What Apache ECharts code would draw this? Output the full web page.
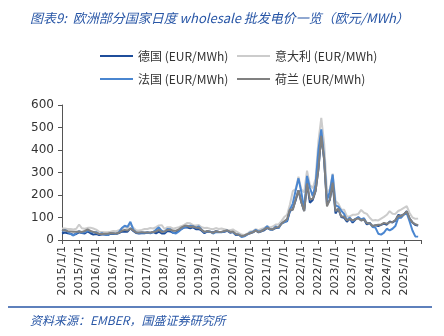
<!DOCTYPE html>
<html><head><meta charset="utf-8">
<script src="https://cdn.jsdelivr.net/npm/echarts@6/dist/echarts.min.js"></script>
<style>html,body{margin:0;padding:0;background:#fff}#c{width:444px;height:336px}</style>
</head><body><div id="c"></div>
<script>
// Monthly categories 2015/1/1 .. 2025/7/1
const months = [];
for (let y = 2015; y <= 2025; y++) for (let m = 1; m <= 12; m++) { if (y === 2025 && m > 7) break; months.push(y + '/' + m + '/1'); }

const seriesNames = ['德国 (EUR/MWh)', '意大利 (EUR/MWh)', '法国 (EUR/MWh)', '荷兰 (EUR/MWh)'];

const germany = [
 29,33,30,28,23,27,34,31,29,38,30,24,
 27,22,24,24,22,27,28,27,31,37,38,37,
 52,40,31,29,30,30,33,31,35,30,37,29,
 29,40,38,32,33,42,49,56,55,52,56,48,
 49,41,30,38,37,33,39,37,36,37,41,32,
 35,22,23,17,18,26,30,34,43,34,39,43,
 53,48,47,53,53,74,81,83,128,139,176,221,
 168,129,252,166,178,218,315,465,356,158,178,252,
 118,139,102,99,81,95,77,91,101,88,91,69,
 76,61,65,62,67,73,68,82,78,86,111,108,
 114,128,95,78,67,64,null
];
const france = [
 39,45,37,27,20,30,40,32,34,43,38,34,
 35,26,30,24,22,29,29,27,35,53,63,59,
 81,46,34,31,33,32,33,30,35,46,56,41,
 35,49,48,32,29,38,50,57,60,64,61,55,
 60,46,34,39,37,29,35,34,34,39,42,36,
 36,25,25,13,16,24,33,36,45,37,41,48,
 62,46,46,60,53,72,78,86,135,162,220,274,
 212,138,285,232,195,248,400,492,367,176,215,291,
 154,148,131,116,87,100,83,94,101,91,97,75,
 75,58,55,28,24,33,50,43,50,62,98,99,
 113,119,82,42,16,15,null
];
const italy = [
 51,51,49,49,47,50,69,52,50,54,55,51,
 46,37,36,34,35,37,40,39,43,50,57,52,
 72,55,43,42,45,49,49,53,51,57,65,66,
 49,57,57,50,54,57,62,68,76,74,66,65,
 67,57,53,54,50,48,53,49,51,48,45,43,
 47,39,32,24,22,28,38,40,48,44,49,54,
 61,56,60,69,69,84,102,112,158,217,226,281,
 224,212,308,245,230,272,441,543,430,212,225,295,
 174,161,136,135,105,105,112,112,116,134,121,116,
 99,87,89,87,95,103,112,128,117,116,129,135,
 143,150,120,100,94,95,null
];
const netherlands = [
 43,43,39,38,37,37,38,36,40,47,40,36,
 32,27,27,28,28,31,30,29,32,41,45,42,
 51,43,33,33,35,33,33,33,36,38,45,36,
 38,45,46,41,41,47,56,63,63,58,60,55,
 55,45,36,40,36,32,39,36,37,40,43,36,
 38,27,24,18,20,26,30,35,42,35,40,47,
 54,49,47,56,57,72,83,93,136,133,180,221,
 168,128,251,180,183,218,317,463,360,149,179,255,
 128,139,104,104,87,94,87,92,96,87,91,75,
 75,62,66,68,68,76,72,79,80,89,107,106,
 115,127,96,78,70,66,null
];
const yTicks = [0, 100, 200, 300, 400, 500, 600];

const chart = echarts.init(document.getElementById('c'), null, {renderer: 'canvas'});
const colors = ['#1f4e9b', '#cccccc', '#4a86d0', '#808080'];
const dataArr = [germany, italy, france, netherlands];
const legendText = {fontSize: 12, color: '#333', fontFamily: 'Noto Sans CJK SC, sans-serif'};
const legendBase = {orient: 'vertical', top: 50, padding: 0, icon: 'rect', itemWidth: 33, itemHeight: 2, itemGap: 11, textStyle: legendText};
chart.setOption({
  animation: false,
  title: [{
    text: '图表9:  欧洲部分国家日度 wholesale 批发电价一览（欧元/MWh）',
    left: 25, top: 7,
    textStyle: {fontSize: 13, fontStyle: 'italic', fontWeight: 'normal', color: '#2856a6', fontFamily: 'Noto Sans CJK SC, sans-serif'}
  }, {
    text: '资料来源：EMBER，国盛证券研究所',
    left: 25, top: 309,
    textStyle: {fontSize: 12, fontStyle: 'italic', fontWeight: 'normal', color: '#2856a6', fontFamily: 'Noto Sans CJK SC, sans-serif'}
  }],
  graphic: [{type: 'line', shape: {x1: 8, y1: 307, x2: 432, y2: 307}, style: {stroke: '#2856a6', lineWidth: 1.5}}],
  legend: [
    Object.assign({data: [seriesNames[0], seriesNames[2]], left: 100}, legendBase),
    Object.assign({data: [seriesNames[1], seriesNames[3]], left: 237}, legendBase)
  ],
  grid: {left: 62, right: 23, top: 105, bottom: 96, containLabel: false},
  xAxis: {
    type: 'category', data: months, boundaryGap: false,
    axisLine: {lineStyle: {color: '#555'}},
    axisTick: {interval: (i) => i % 6 === 0, length: 4, lineStyle: {color: '#555'}},
    axisLabel: {interval: (i) => i % 6 === 0 && i < months.length - 1, rotate: 90, fontSize: 11, color: '#333', margin: 6, fontFamily: 'DejaVu Sans, sans-serif'}
  },
  yAxis: {
    type: 'value', min: yTicks[0], max: yTicks[yTicks.length - 1], interval: 100,
    splitLine: {show: false},
    axisLine: {show: true, lineStyle: {color: '#555'}},
    axisTick: {show: true, length: 4, lineStyle: {color: '#555'}},
    axisLabel: {fontSize: 12, color: '#333', margin: 8, fontFamily: 'DejaVu Sans, sans-serif'}
  },
  series: dataArr.map((d, i) => ({
    name: seriesNames[i], type: 'line', data: d, symbol: 'none',
    lineStyle: {width: 2, color: colors[i]}, itemStyle: {color: colors[i]}
  }))
});
</script></body></html>
